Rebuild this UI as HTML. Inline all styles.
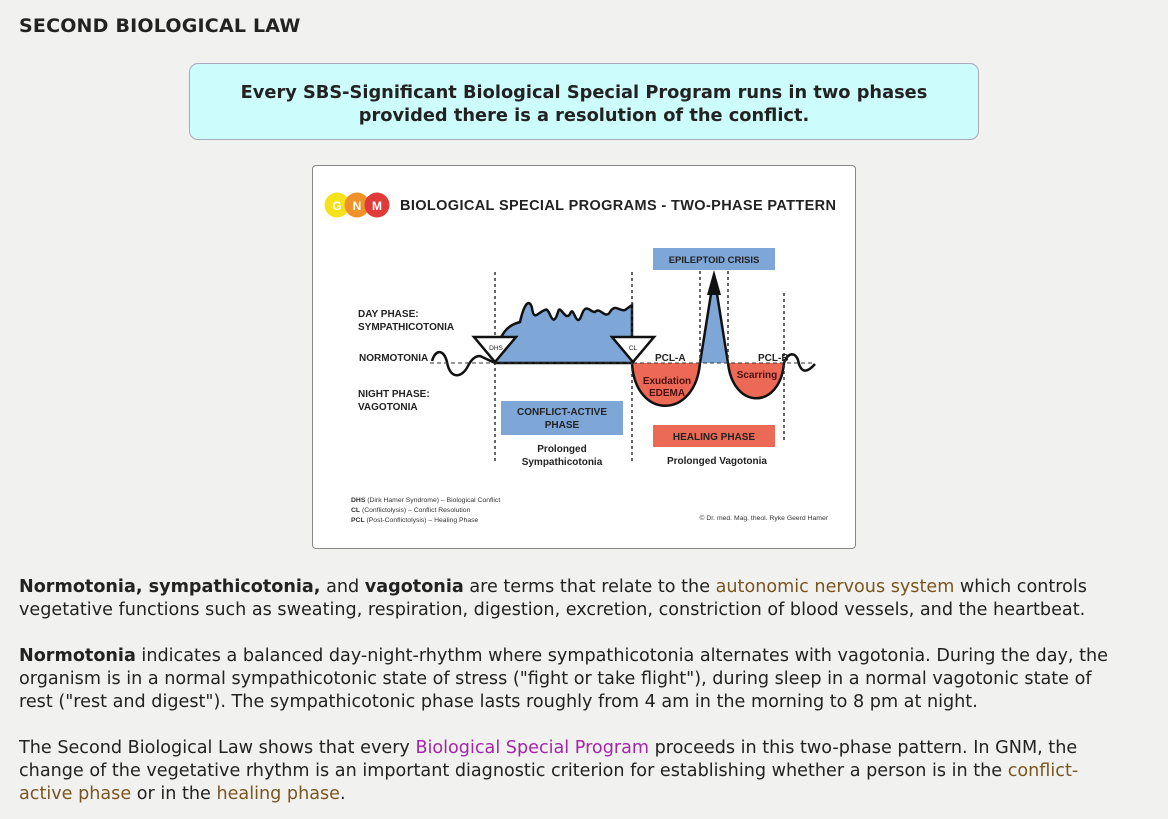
<!DOCTYPE html>
<html><head><meta charset="utf-8"><style>
body{margin:0;width:1168px;height:819px;background:#f1f1f0;font-family:"DejaVu Sans","Liberation Sans",sans-serif;color:#222;overflow:hidden;position:relative}
h1{position:absolute;left:19px;top:15px;margin:0;font-size:19px;font-weight:bold;color:#222;letter-spacing:0.2px}
.box{position:absolute;left:189px;top:63px;width:790px;height:77px;background:#ccfcfc;border:1.5px solid #aab;border-radius:9px;box-sizing:border-box;text-align:center;font-weight:bold;font-size:17.8px;line-height:23px;padding-top:17px;color:#222}
.fig{position:absolute;left:312px;top:165px;width:544px;height:384px;background:#fff;border:1.5px solid #888;border-radius:4px;box-sizing:border-box}
.p{position:absolute;left:19px;font-size:17.6px;line-height:23px;white-space:nowrap}
.p b{color:#222}
.br{color:#7a5520}.mg{color:#a326a8}
</style></head><body>
<h1>SECOND BIOLOGICAL LAW</h1>
<div class="box">Every SBS-Significant Biological Special Program runs in two phases<br>provided there is a resolution of the conflict.</div>
<div class="fig"></div>
<svg style="position:absolute;left:0;top:0" width="1168" height="819" font-family="Liberation Sans,sans-serif">
<circle cx="337" cy="205" r="12.5" fill="#f5e21a"/><circle cx="357" cy="205" r="12.5" fill="#f0922a"/><circle cx="377" cy="205" r="12.5" fill="#e03a3a"/>
<text x="337" y="210" font-size="12" fill="#fff" text-anchor="middle" font-weight="bold">G</text>
<text x="357" y="210" font-size="12" fill="#fff" text-anchor="middle" font-weight="bold">N</text>
<text x="377" y="210" font-size="12" fill="#fff" text-anchor="middle" font-weight="bold">M</text>
<text x="400" y="210" font-size="14.5" font-weight="bold" fill="#222" textLength="436">BIOLOGICAL SPECIAL PROGRAMS - TWO-PHASE PATTERN</text>
<rect x="653" y="248" width="122" height="22" fill="#7ea7d8"/>
<text x="714" y="263" font-size="9.5" font-weight="bold" text-anchor="middle" fill="#222">EPILEPTOID CRISIS</text>
<rect x="501" y="401" width="122" height="34" fill="#7ea7d8"/>
<text x="562" y="415" font-size="10" font-weight="bold" text-anchor="middle" fill="#222">CONFLICT-ACTIVE</text>
<text x="562" y="428" font-size="10" font-weight="bold" text-anchor="middle" fill="#222">PHASE</text>
<rect x="653" y="425" width="122" height="22" fill="#ec6a55"/>
<text x="714" y="440" font-size="10" font-weight="bold" text-anchor="middle" fill="#222">HEALING PHASE</text>
<path d="M495 363 C498 330 510 325 520 322 C525 300 530 300 532 308 C534 322 538 312 545 310 C550 306 552 332 558 312 C560 303 565 322 570 314 C574 303 576 332 582 314 C586 303 590 312 595 312 C600 306 605 320 610 312 C615 303 620 312 625 310 L632 305 L632 363 Z" fill="#7ea7d8" stroke="#111" stroke-width="2.5"/>
<path d="M700 363 L714 270 L728 363 Z" fill="#7ea7d8"/>
<path d="M632 363 C635 420 695 420 700 363 Z" fill="#ec6a55"/>
<path d="M728 363 C733 410 780 410 784 363 Z" fill="#ec6a55"/>
<path d="M632 363 C635 420 695 420 700 363 L714 275 L728 363 C733 410 780 410 784 363 C788 352 795 352 798 360 C801 375 808 372 815 364" fill="none" stroke="#111" stroke-width="2.5"/>
<path d="M714 270 L707 295 L721 295 Z" fill="#111"/>
<path d="M432 361 C436 348 444 350 447 362 C450 380 462 378 468 366 C472 358 476 356 480 356 L495 363" fill="none" stroke="#111" stroke-width="2.5"/>
<line x1="430" y1="363" x2="815" y2="363" stroke="#333" stroke-width="1" stroke-dasharray="4,3"/>
<g stroke="#333" stroke-width="1.5" stroke-dasharray="3,3">
<line x1="495" y1="272" x2="495" y2="462"/><line x1="632" y1="272" x2="632" y2="462"/>
<line x1="700" y1="271" x2="700" y2="362"/><line x1="728" y1="271" x2="728" y2="362"/>
<line x1="784" y1="293" x2="784" y2="440"/></g>
<path d="M474 337 L516 337 L495 362 Z" fill="#fff" stroke="#111" stroke-width="2.5"/>
<path d="M612 337 L654 337 L633 362 Z" fill="#fff" stroke="#111" stroke-width="2.5"/>
<text x="496" y="350" font-size="6.5" text-anchor="middle" fill="#222">DHS</text>
<text x="633" y="350" font-size="6.5" text-anchor="middle" fill="#222">CL</text>
<g font-size="10" font-weight="bold" fill="#222">
<text x="358" y="317">DAY PHASE:</text><text x="358" y="330">SYMPATHICOTONIA</text>
<text x="359" y="361">NORMOTONIA</text>
<text x="358" y="397">NIGHT PHASE:</text><text x="358" y="410">VAGOTONIA</text>
<text x="655" y="361">PCL-A</text><text x="758" y="361">PCL-B</text>
<text x="562" y="452" text-anchor="middle">Prolonged</text>
<text x="562" y="465" text-anchor="middle">Sympathicotonia</text>
<text x="717" y="464" text-anchor="middle">Prolonged Vagotonia</text>
<text x="667" y="384" text-anchor="middle" fill="#4a1010">Exudation</text>
<text x="667" y="396" text-anchor="middle" fill="#4a1010">EDEMA</text>
<text x="757" y="378" text-anchor="middle" fill="#4a1010">Scarring</text>
</g>
<g font-size="6.8" fill="#333">
<text x="351" y="502"><tspan font-weight="bold">DHS</tspan> (Dirk Hamer Syndrome) – Biological Conflict</text>
<text x="351" y="512"><tspan font-weight="bold">CL</tspan> (Conflictolysis) – Conflict Resolution</text>
<text x="351" y="522"><tspan font-weight="bold">PCL</tspan> (Post-Conflictolysis) – Healing Phase</text>
<text x="828" y="520" text-anchor="end">© Dr. med. Mag. theol. Ryke Geerd Hamer</text>
</g>
</svg>
<div class="p" style="top:576px"><b>Normotonia, sympathicotonia,</b> and <b>vagotonia</b> are terms that relate to the <span class="br">autonomic nervous system</span> which controls<br>vegetative functions such as sweating, respiration, digestion, excretion, constriction of blood vessels, and the heartbeat.</div>
<div class="p" style="top:645px"><b>Normotonia</b> indicates a balanced day-night-rhythm where sympathicotonia alternates with vagotonia. During the day, the<br>organism is in a normal sympathicotonic state of stress ("fight or take flight"), during sleep in a normal vagotonic state of<br>rest ("rest and digest"). The sympathicotonic phase lasts roughly from 4 am in the morning to 8 pm at night.</div>
<div class="p" style="top:737px">The Second Biological Law shows that every <span class="mg">Biological Special Program</span> proceeds in this two-phase pattern. In GNM, the<br>change of the vegetative rhythm is an important diagnostic criterion for establishing whether a person is in the <span class="br">conflict-</span><br><span class="br">active phase</span> or in the <span class="br">healing phase</span>.</div>
</body></html>
